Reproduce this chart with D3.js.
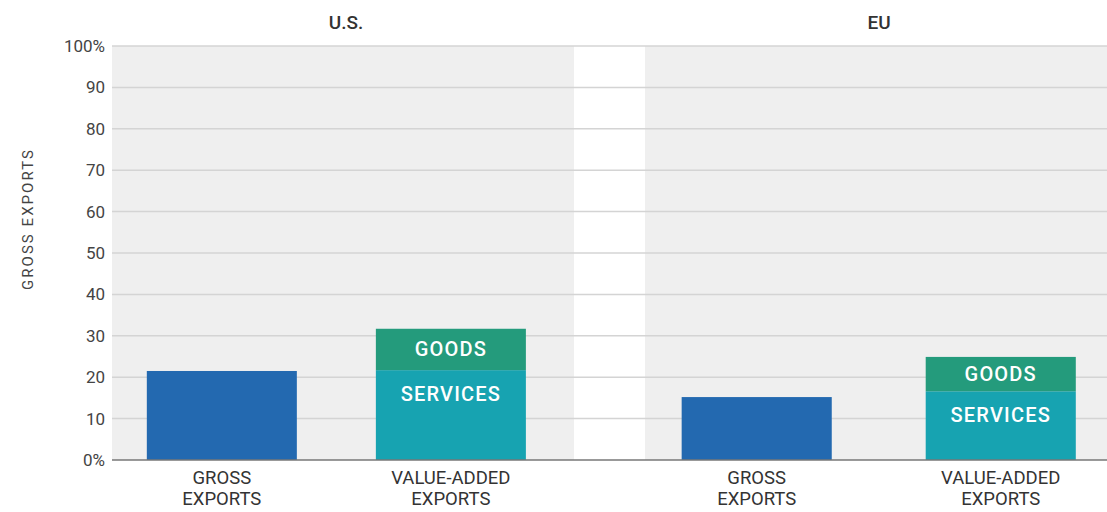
<!DOCTYPE html>
<html>
<head>
<meta charset="utf-8">
<script src="https://cdn.jsdelivr.net/npm/d3@7"></script>
<style>
  body { margin: 0; background: #fff; }
  svg { display: block; font-family: Roboto, 'Open Sans', sans-serif; }
</style>
</head>
<body>
<svg width="1107" height="512"></svg>
<script>
// data
const regions = ['U.S.', 'EU'];
const categories = ['GROSS EXPORTS', 'VALUE-ADDED EXPORTS'];
const grossExports = [21.5, 15.2];
const servicesShare = [21.7, 16.6];
const goodsShare = [10.0, 8.3];
const yTicks = [0, 10, 20, 30, 40, 50, 60, 70, 80, 90, 100];

let svg = d3.select('svg');

let plotTop = 46, plotBottom = 460, plotLeft = 112, plotRight = 1107;

let y = d3.scaleLinear()
  .domain([0, 100])
  .range([plotBottom, plotTop]);

// panels
let panel = d3.scaleBand()
  .domain(regions)
  .range([plotLeft, plotRight])
  .paddingInner(0.1333)
  .paddingOuter(0);

// inner spacing differs a bit per panel in the original: [inner, outer, align]
let innerPad = { 'U.S.': [0.345, 0.181, 0.42], 'EU': [0.385, 0.139, 0.54] };

let colors = { gross: '#2369b0', services: '#17a3b1', goods: '#249b7c' };

regions.forEach((r) => {
  svg.append('rect')
    .attr('x', panel(r))
    .attr('y', plotTop)
    .attr('width', panel.bandwidth())
    .attr('height', plotBottom - plotTop)
    .attr('fill', '#efefef');
});

// grid lines
svg.append('g')
  .selectAll('line')
  .data(yTicks.filter((d) => d > 0))
  .enter().append('line')
  .attr('x1', plotLeft)
  .attr('x2', plotRight)
  .attr('y1', (d) => y(d))
  .attr('y2', (d) => y(d))
  .attr('stroke', '#d4d4d4')
  .attr('stroke-width', 1.5);

// y axis labels
let yAxis = svg.append('g')
  .attr('transform', `translate(${plotLeft},0)`)
  .call(d3.axisLeft(y).tickValues(yTicks).tickSize(0).tickPadding(7)
    .tickFormat((d) => (d === 0 || d === 100) ? d + '%' : d));
yAxis.select('.domain').remove();
yAxis.selectAll('text')
  .attr('font-size', 17)
  .attr('fill', '#444')
  .attr('font-family', 'Roboto, sans-serif');

svg.append('text')
  .attr('transform', 'translate(33,220) rotate(-90)')
  .attr('text-anchor', 'middle')
  .attr('font-size', 15)
  .attr('textLength', 140)
  .attr('fill', '#444')
  .text('GROSS EXPORTS');

regions.forEach((r, i) => {
  let x = d3.scaleBand()
    .domain(categories)
    .range([panel(r), panel(r) + panel.bandwidth()])
    .paddingInner(innerPad[r][0])
    .paddingOuter(innerPad[r][1])
    .align(innerPad[r][2]);

  let g = svg.append('g');

  // panel title
  g.append('text')
    .attr('x', panel(r) + panel.bandwidth() / 2 + 3)
    .attr('y', 29)
    .attr('text-anchor', 'middle')
    .attr('font-size', 19)
    .attr('font-weight', 500)
    .attr('fill', '#333')
    .text(r);

  // gross bar
  g.append('rect')
    .attr('x', x(categories[0]))
    .attr('y', y(grossExports[i]))
    .attr('width', x.bandwidth())
    .attr('height', y(0) - y(grossExports[i]))
    .attr('fill', colors.gross);

  // value-added stacked bar
  let stack = [
    { key: 'services', y0: 0, y1: servicesShare[i], label: 'SERVICES' },
    { key: 'goods', y0: servicesShare[i], y1: servicesShare[i] + goodsShare[i], label: 'GOODS' }
  ];

  g.selectAll('.seg')
    .data(stack)
    .enter().append('rect')
    .attr('x', x(categories[1]))
    .attr('y', (d) => y(d.y1))
    .attr('width', x.bandwidth())
    .attr('height', (d) => y(d.y0) - y(d.y1))
    .attr('fill', (d) => colors[d.key]);

  g.selectAll('.seglabel')
    .data(stack)
    .enter().append('text')
    .attr('x', x(categories[1]) + x.bandwidth() / 2)
    .attr('y', (d) => d.key === 'goods' ? (y(d.y0) + y(d.y1)) / 2 + 7 : y(d.y1) + 31)
    .attr('text-anchor', 'middle')
    .attr('font-size', 20)
    .attr('font-weight', 500)
    .attr('letter-spacing', 1.2)
    .attr('fill', '#fff')
    .text((d) => d.label);

  // category labels
  categories.forEach((c) => {
    let words = c === 'GROSS EXPORTS' ? ['GROSS', 'EXPORTS'] : ['VALUE-ADDED', 'EXPORTS'];
    let t = g.append('text')
      .attr('text-anchor', 'middle')
      .attr('font-size', 18.5)
      .attr('fill', '#333');
    words.forEach((w, k) => {
      t.append('tspan')
        .attr('x', x(c) + x.bandwidth() / 2)
        .attr('y', 484 + k * 21)
        .text(w);
    });
  });
});

// baseline
svg.append('line')
  .attr('x1', plotLeft)
  .attr('x2', plotRight)
  .attr('y1', plotBottom)
  .attr('y2', plotBottom)
  .attr('stroke', '#777')
  .attr('stroke-width', 1.5);
</script>
</body>
</html>
